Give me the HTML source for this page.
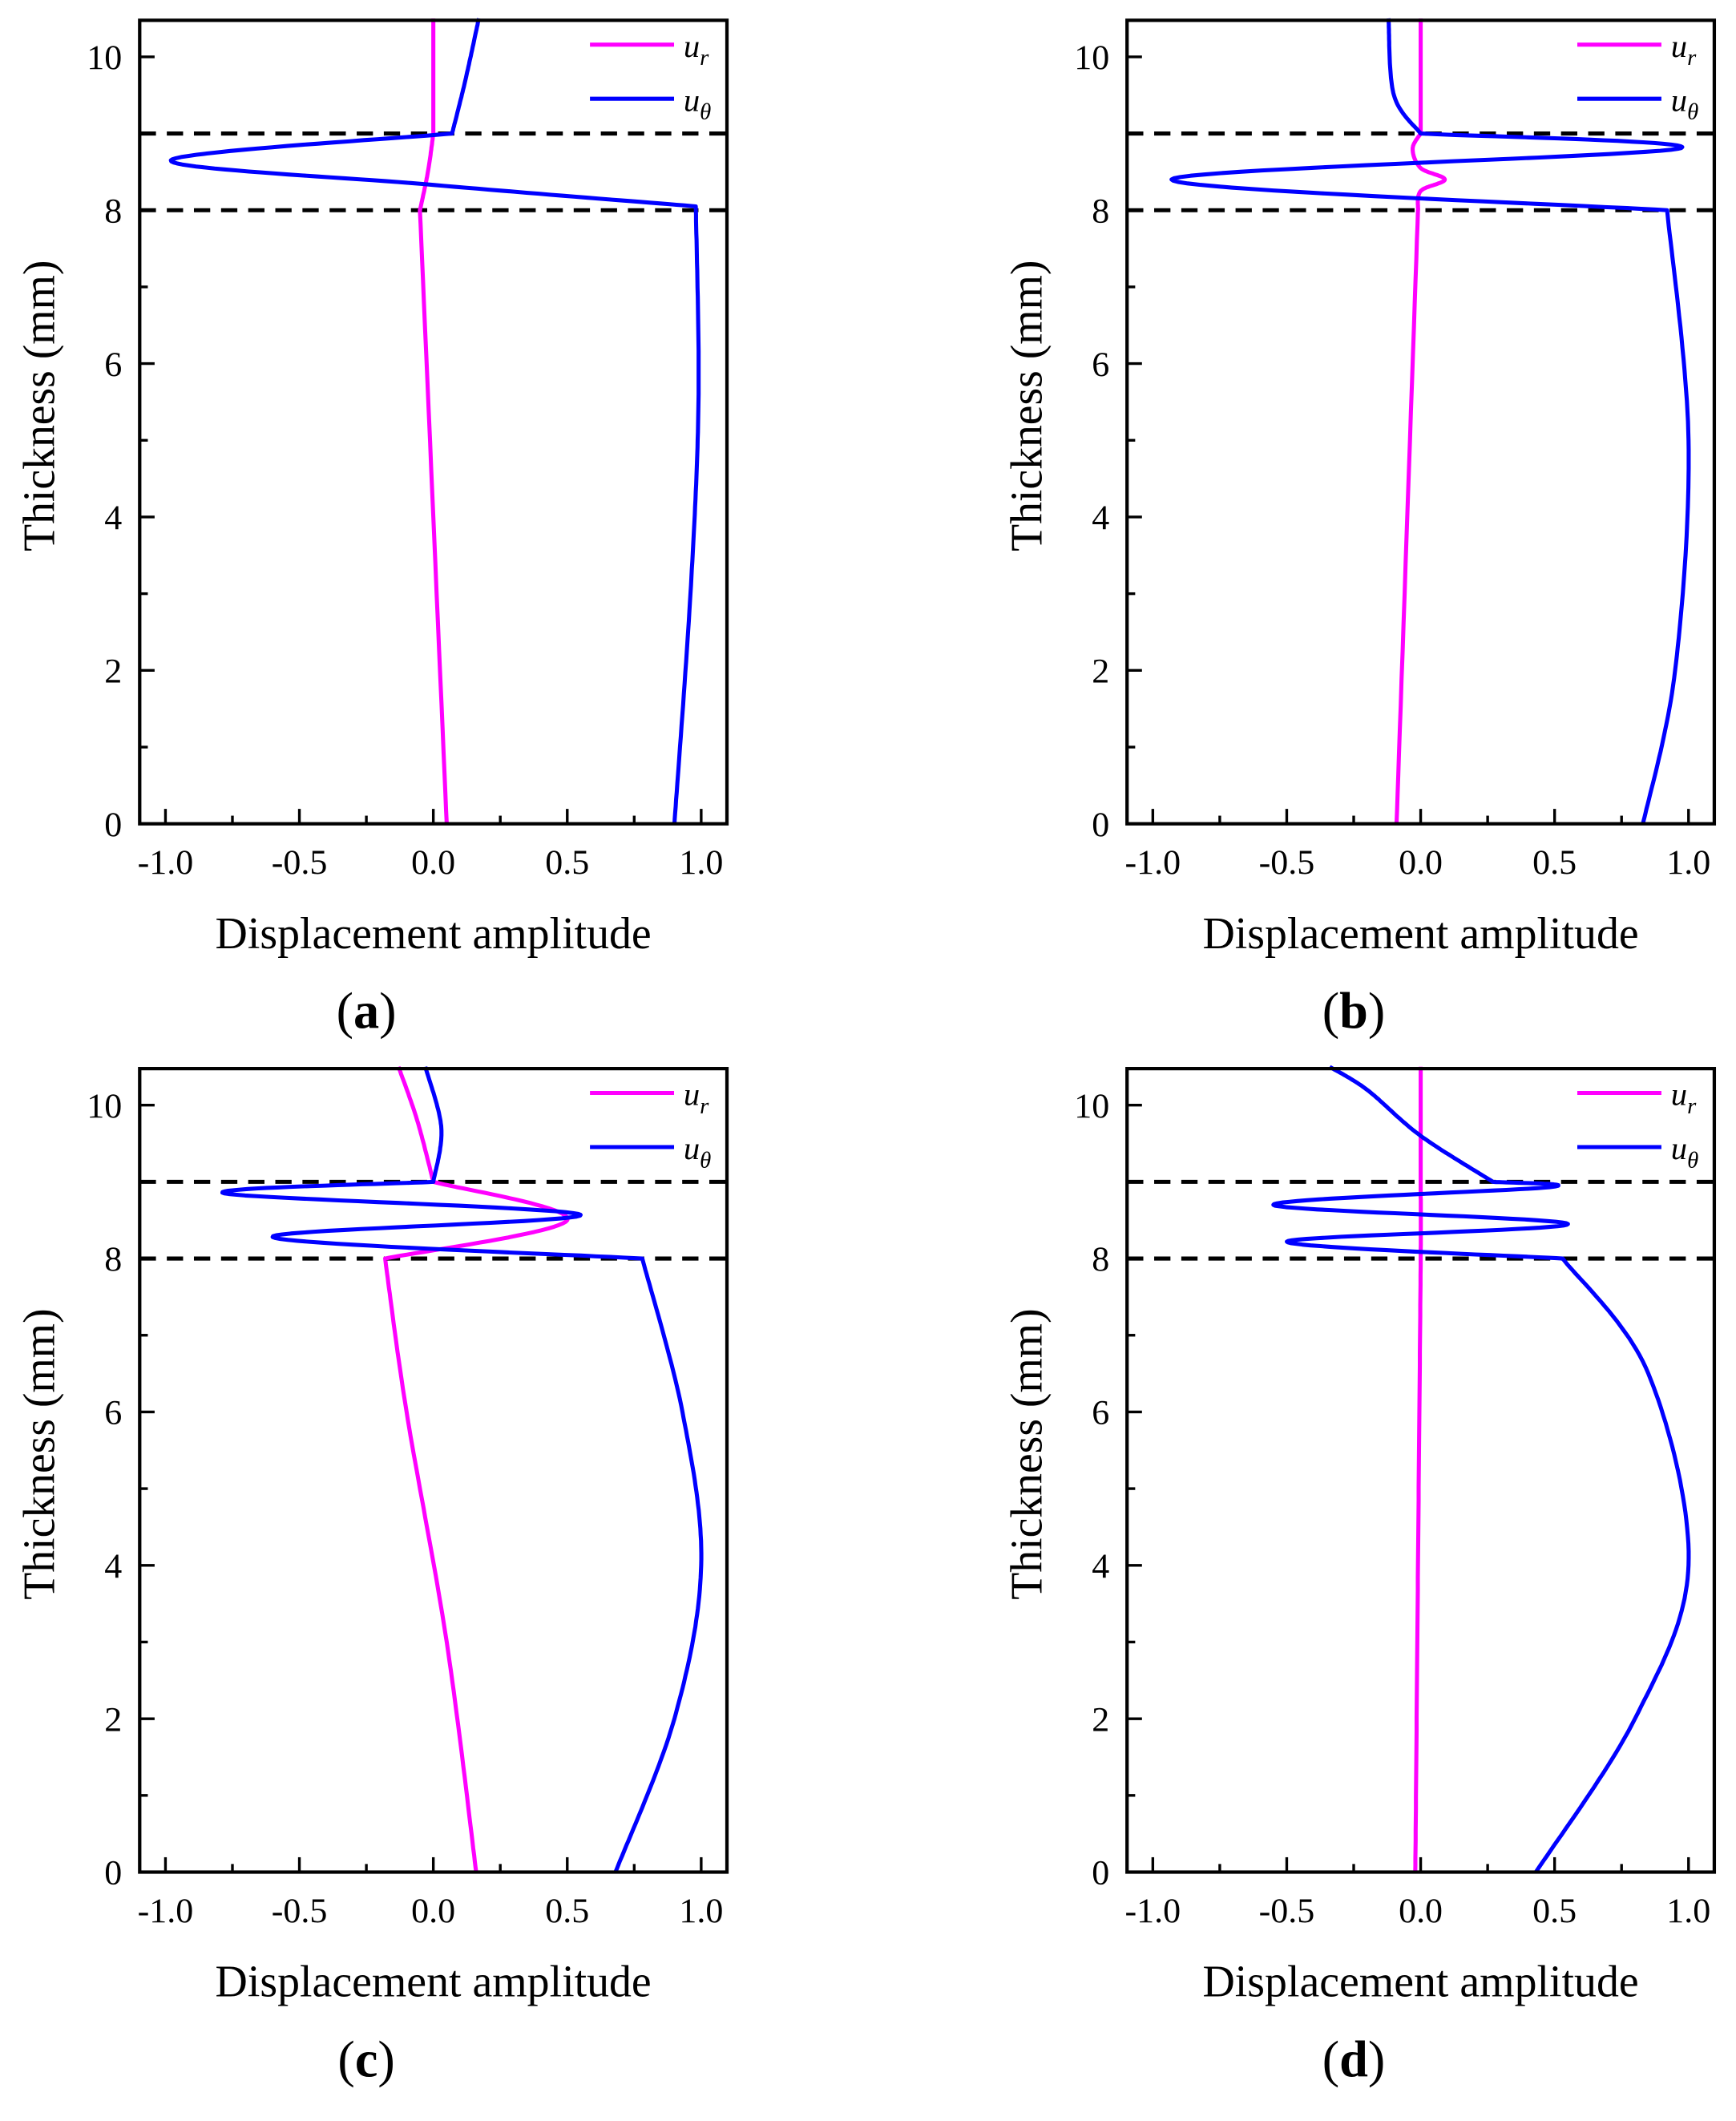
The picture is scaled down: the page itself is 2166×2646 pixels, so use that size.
<!DOCTYPE html>
<html><head><meta charset="utf-8"><style>html,body{margin:0;padding:0;background:#fff}svg{display:block}</style></head>
<body>
<svg id="s" width="2166" height="2646" viewBox="0 0 1280 1568" preserveAspectRatio="none" xmlns="http://www.w3.org/2000/svg" font-family="'Liberation Serif',serif"></svg>
<script>
const s=document.getElementById('s');
let h='';
const panels=[
 {L:103,T:15,lab:'a',
  ur:[[[0.05,0],[-0.05,8]],[[-0.05,8],[-0.02,8.5],[0,9]],[[0,9],[0,10.5]]],
  ut:[[[0.9,0],[0.96,3],[0.99,5.5],[0.98,8.05]],[[0.98,8.05],[0,8.33],[-0.98,8.65],[0.07,9.0]],[[0.07,9],[0.12,9.7],[0.17,10.5]]]},
 {L:831,T:15,lab:'b',
  ur:[[[-0.09,0],[-0.01,8]],[[-0.01,8],[0,8.25],[0.09,8.4],[0,8.55],[-0.03,8.8],[0,9]],[[0,9],[0,10.5]]],
  ut:[[[0.83,0],[0.95,2],[1.0,5],[0.92,8]],[[0.92,8],[-0.93,8.4],[0.96,8.8],[0,9]],[[0,9],[-0.1,9.5],[-0.12,10.5]]]},
 {L:103,T:790,lab:'c',
  ur:[[[0.16,0],[0.05,3],[-0.1,6],[-0.18,8]],[[-0.18,8],[0.5,8.5],[0,9]],[[0,9],[-0.06,9.8],[-0.13,10.5]]],
  ut:[[[0.68,0],[0.9,2],[1.0,4],[0.93,6],[0.78,8]],[[0.78,8],[-0.6,8.28],[0.55,8.57],[-0.78,8.85],[0,9]],[[0,9],[0.03,9.7],[-0.03,10.5]]]},
 {L:831,T:790,lab:'d',
  ur:[[[-0.02,0],[-0.01,4],[0,8],[0,9],[0,10.5]]],
  ut:[[[0.43,0],[0.8,2],[1,4],[0.85,6.5],[0.53,8]],[[0.53,8],[-0.5,8.22],[0.55,8.45],[-0.55,8.7],[0.48,8.93],[0.27,9]],[[0.27,9],[0,9.6],[-0.2,10.2],[-0.34,10.5]]]}
];
function cr(segs,X,Y){
 let out=[];
 for(const pts of segs){
 for(let i=0;i<pts.length-1;i++){
  const p0=pts[Math.max(0,i-1)],p1=pts[i],p2=pts[i+1],p3=pts[Math.min(pts.length-1,i+2)];
  for(let t=0;t<1;t+=0.04){
   const t2=t*t,t3=t2*t;
   const f=k=>0.5*((2*p1[k])+(-p0[k]+p2[k])*t+(2*p0[k]-5*p1[k]+4*p2[k]-p3[k])*t2+(-p0[k]+3*p1[k]-3*p2[k]+p3[k])*t3);
   out.push(X(f(0)).toFixed(1)+','+Y(f(1)).toFixed(1));
  }
 }
 const l=pts[pts.length-1];out.push(X(l[0]).toFixed(1)+','+Y(l[1]).toFixed(1));
 }
 return out.join(' ');
}
for(const p of panels){
 const L=p.L,R=L+433,T=p.T,B=T+594;
 const X=v=>L+19+(v+1)*197.5, Y=v=>B-v*56.7;
 for(const d of [8,9]) h+=`<line x1="${L}" x2="${R}" y1="${Y(d)}" y2="${Y(d)}" stroke="#000" stroke-width="3" stroke-dasharray="12,8"/>`;
 h+=`<polyline points="${cr(p.ur,X,Y)}" fill="none" stroke="#ff00ff" stroke-width="3" stroke-linejoin="round"/>`;
 h+=`<polyline points="${cr(p.ut,X,Y)}" fill="none" stroke="#0000ff" stroke-width="3" stroke-linejoin="round"/>`;
 h+=`<rect x="${L}" y="${T}" width="433" height="594" fill="none" stroke="#000" stroke-width="2.5"/>`;
 for(let i=0;i<=8;i++){const v=-1+i*0.25,x=X(v),len=i%2?6:11;h+=`<line x1="${x}" x2="${x}" y1="${B}" y2="${B-len}" stroke="#000" stroke-width="2"/>`;
  if(i%2==0)h+=`<text x="${x}" y="${B+37}" font-size="26" text-anchor="middle">${v.toFixed(1)}</text>`;}
 for(let i=0;i<=10;i++){const y=Y(i),len=i%2?6:11;h+=`<line x1="${L}" x2="${L+len}" y1="${y}" y2="${y}" stroke="#000" stroke-width="2"/>`;
  if(i%2==0)h+=`<text x="${L-13}" y="${y+9}" font-size="26" text-anchor="end">${i}</text>`;}
 h+=`<text transform="translate(${L-63},${(T+B)/2-12}) rotate(-90)" font-size="33" text-anchor="middle">Thickness (mm)</text>`;
 h+=`<text x="${X(0)}" y="${B+92}" font-size="33" text-anchor="middle">Displacement amplitude</text>`;
 h+=`<text x="${X(-0.25)}" y="${B+151}" font-size="38" text-anchor="middle">(<tspan font-weight="bold">${p.lab}</tspan>)</text>`;
 h+=`<line x1="${L+332}" x2="${L+394}" y1="${T+18}" y2="${T+18}" stroke="#ff00ff" stroke-width="3"/>`;
 h+=`<line x1="${L+332}" x2="${L+394}" y1="${T+58}" y2="${T+58}" stroke="#0000ff" stroke-width="3"/>`;
 h+=`<text x="${L+401}" y="${T+27}" font-size="24" font-style="italic">u<tspan font-size="17" dy="6">r</tspan></text>`;
 h+=`<text x="${L+401}" y="${T+67}" font-size="24" font-style="italic">u<tspan font-size="17" dy="6">θ</tspan></text>`;
}
s.innerHTML=h;
</script>
</body></html>
